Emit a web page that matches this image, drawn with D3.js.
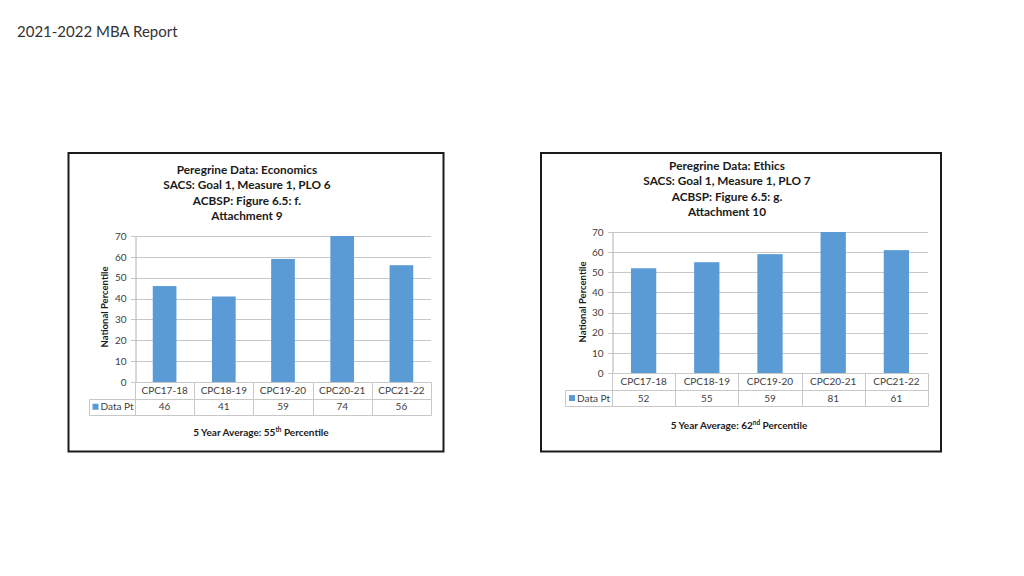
<!DOCTYPE html>
<html>
<head>
<meta charset="utf-8">
<script src="https://cdn.jsdelivr.net/npm/d3@7"></script>
<style>
  body { margin: 0; background: #fff; }
  svg { display: block; font-family: Lato, "Open Sans", sans-serif; }
</style>
</head>
<body>
<svg id="page" width="1024" height="576"></svg>
<script>
// categories shared by both charts
const categories = ["CPC17-18", "CPC18-19", "CPC19-20", "CPC20-21", "CPC21-22"];

// Peregrine values (national percentile)
const economicsValues = [46, 41, 59, 74, 56];
const ethicsValues = [52, 55, 59, 81, 61];

const yTicks = [0, 10, 20, 30, 40, 50, 60, 70];

const economicsTitle = ["Peregrine Data: Economics", "SACS: Goal 1, Measure 1, PLO 6", "ACBSP: Figure 6.5: f.", "Attachment 9"];
const ethicsTitle = ["Peregrine Data: Ethics", "SACS: Goal 1, Measure 1, PLO 7", "ACBSP: Figure 6.5: g.", "Attachment 10"];

const seriesName = "Data Pt";
const economicsAvg = ["5 Year Average: 55", "th", " Percentile"];
const ethicsAvg = ["5 Year Average: 62", "nd", " Percentile"];

const barColor = "#5b9bd5";
const gridColor = "#c8c8c8";
const textColor = "#404040";

let svg = d3.select("#page");

svg.append("text")
    .attr("x", 17)
    .attr("y", 37)
    .style("font-size", "15px")
    .style("fill", "#333")
    .text("2021-2022 MBA Report");

/** draws one boxed chart with its data table */
function drawPanel(p) {
    let g = svg.append("g");

    // outer frame
    g.append("rect")
        .attr("x", p.box[0]).attr("y", p.box[1])
        .attr("width", p.box[2] - p.box[0]).attr("height", p.box[3] - p.box[1])
        .style("fill", "none")
        .style("stroke", "#1a1a1a")
        .style("stroke-width", 2);

    // titles
    g.selectAll("text.title")
        .data(p.title)
        .enter()
        .append("text")
        .attr("class", "title")
        .attr("x", p.titleX)
        .attr("y", (d, i) => p.titleY + i * p.titleStep)
        .attr("text-anchor", "middle")
        .style("font-size", "11.8px")
        .style("font-weight", "bold")
        .style("fill", "#1a1a1a")
        .text(d => d);

    let x = d3.scaleBand()
        .domain(categories)
        .range([p.left, p.right]);

    let y = d3.scaleLinear()
        .domain([0, 70])
        .range([p.bottom, p.top])
        .clamp(true);

    // grid lines
    g.selectAll("line.grid")
        .data(yTicks)
        .enter()
        .append("line")
        .attr("x1", p.left - 4)
        .attr("x2", p.right)
        .attr("y1", d => Math.round(y(d)) + 0.5)
        .attr("y2", d => Math.round(y(d)) + 0.5)
        .style("stroke", gridColor);

    // y axis
    let yAxis = d3.axisLeft(y)
        .tickValues(yTicks)
        .tickSize(0)
        .tickPadding(9);

    let ax = g.append("g")
        .attr("transform", "translate(" + (p.left + 0.5) + ",0)")
        .call(yAxis);
    ax.select(".domain").style("stroke", "#b0b0b0");
    ax.selectAll("text")
        .style("font-family", "Lato, sans-serif")
        .style("font-size", "10px")
        .style("fill", textColor);

    // bars
    g.selectAll("rect.bar")
        .data(p.values)
        .enter()
        .append("rect")
        .attr("class", "bar")
        .attr("x", (d, i) => x(categories[i]) + x.bandwidth() * 0.3)
        .attr("width", x.bandwidth() * 0.4)
        .attr("y", d => y(d))
        .attr("height", d => y(0) - y(d))
        .style("fill", barColor);

    // y axis title
    g.append("text")
        .attr("transform", "translate(" + p.yTitleX + "," + p.yTitleY + ") rotate(-90)")
        .attr("text-anchor", "middle")
        .style("font-size", "9.5px")
        .style("font-weight", "bold")
        .style("fill", "#1a1a1a")
        .text("National Percentile");

    // data table
    let r1 = p.bottom + p.rowH;
    let r2 = p.bottom + 2 * p.rowH;
    let lines = [
        [p.left, p.bottom, p.right, p.bottom],
        [p.legendLeft, r1, p.right, r1],
        [p.legendLeft, r2, p.right, r2],
        [p.legendLeft, r1, p.legendLeft, r2]
    ];
    x.domain().forEach(c => lines.push([x(c), p.bottom, x(c), r2]));
    lines.push([p.right, p.bottom, p.right, r2]);

    g.selectAll("line.table")
        .data(lines)
        .enter()
        .append("line")
        .attr("x1", d => Math.round(d[0]) + 0.5)
        .attr("y1", d => Math.round(d[1]) + 0.5)
        .attr("x2", d => Math.round(d[2]) + 0.5)
        .attr("y2", d => Math.round(d[3]) + 0.5)
        .style("stroke", gridColor);

    g.selectAll("text.cat")
        .data(categories)
        .enter()
        .append("text")
        .attr("x", d => x(d) + x.bandwidth() / 2)
        .attr("y", p.bottom + p.rowH / 2 + 3.5)
        .attr("text-anchor", "middle")
        .style("font-size", "10px")
        .style("fill", textColor)
        .text(d => d);

    g.selectAll("text.val")
        .data(p.values)
        .enter()
        .append("text")
        .attr("x", (d, i) => x(categories[i]) + x.bandwidth() / 2)
        .attr("y", r1 + p.rowH / 2 + 3.5)
        .attr("text-anchor", "middle")
        .style("font-size", "10px")
        .style("fill", textColor)
        .text(d => d);

    // legend key
    g.append("rect")
        .attr("x", p.legendLeft + 4)
        .attr("y", r1 + p.rowH / 2 - 3)
        .attr("width", 6).attr("height", 6)
        .style("fill", barColor);
    g.append("text")
        .attr("x", p.legendLeft + 12)
        .attr("y", r1 + p.rowH / 2 + 3.5)
        .style("font-size", "10px")
        .style("fill", textColor)
        .text(seriesName);

    // average footnote
    let foot = g.append("text")
        .attr("x", p.footX)
        .attr("y", p.footY)
        .attr("text-anchor", "middle")
        .style("font-size", "10px")
        .style("font-weight", "bold")
        .style("fill", "#1a1a1a");
    foot.append("tspan").text(p.avg[0]);
    foot.append("tspan").attr("dy", -4).style("font-size", "6.5px").text(p.avg[1]);
    foot.append("tspan").attr("dy", 4).text(p.avg[2]);
}

drawPanel({
    box: [68.5, 153, 443.5, 451.5],
    title: economicsTitle,
    titleX: 247, titleY: 173.5, titleStep: 15.5,
    values: economicsValues,
    left: 135, right: 431, top: 236, bottom: 382,
    rowH: 16.5, legendLeft: 88.5,
    yTitleX: 108, yTitleY: 307,
    avg: economicsAvg, footX: 261, footY: 436
});

drawPanel({
    box: [541, 153, 941, 451.5],
    title: ethicsTitle,
    titleX: 727, titleY: 169.5, titleStep: 15.5,
    values: ethicsValues,
    left: 612, right: 928, top: 232, bottom: 373,
    rowH: 16.7, legendLeft: 565,
    yTitleX: 586, yTitleY: 302,
    avg: ethicsAvg, footX: 739, footY: 429
});
</script>
</body>
</html>
